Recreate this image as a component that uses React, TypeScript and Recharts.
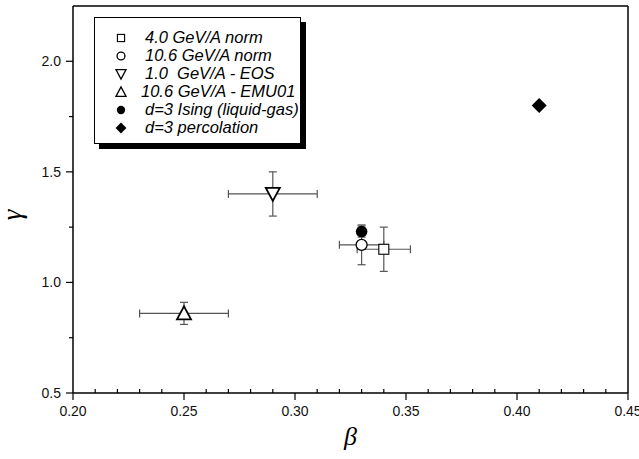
import React from "react";
import {
  ScatterChart,
  Scatter,
  XAxis,
  YAxis,
  ErrorBar,
  ReferenceLine,
  Legend,
  Label
} from "recharts";

// β, γ and their errors, one entry per series
const seriesNames = [
  "4.0 GeV/A norm",
  "10.6 GeV/A norm",
  "1.0  GeV/A - EOS",
  "10.6 GeV/A - EMU01",
  "d=3 Ising (liquid-gas)",
  "d=3 percolation"
];
const markerKinds = ["square", "circle", "down", "up", "dot", "diamond"];
const betaValues = [0.34, 0.33, 0.29, 0.25, 0.33, 0.41];
const gammaValues = [1.15, 1.17, 1.4, 0.86, 1.23, 1.8];
const betaErrors = [0.012, 0.01, 0.02, 0.02, 0, 0];
const gammaErrors = [0.1, 0.09, 0.1, 0.05, 0.025, 0];

const xTicks = [
  0.2, 0.21, 0.22, 0.23, 0.24, 0.25, 0.26, 0.27, 0.28, 0.29, 0.3, 0.31, 0.32,
  0.33, 0.34, 0.35, 0.36, 0.37, 0.38, 0.39, 0.4, 0.41, 0.42, 0.43, 0.44, 0.45
];
const yTicks = [0.5, 0.75, 1.0, 1.25, 1.5, 1.75, 2.0];

const sans = "'Liberation Sans', Arial, sans-serif";
const serif = "'Liberation Serif', 'DejaVu Serif', serif";

function Marker({ kind, cx, cy, s = 1 }: { kind: string; cx: number; cy: number; s?: number }) {
  switch (kind) {
    case "square":
      return <rect x={cx - 5 * s} y={cy - 5 * s} width={10 * s} height={10 * s} fill="#fff" stroke="#000" strokeWidth={1.1} />;
    case "circle":
      return <circle cx={cx} cy={cy} r={5.5 * s} fill="#fff" stroke="#000" strokeWidth={1.3} />;
    case "down":
      return (
        <polygon
          points={`${cx - 7 * s},${cy - 6 * s} ${cx + 7 * s},${cy - 6 * s} ${cx},${cy + 7 * s}`}
          fill="#fff" stroke="#000" strokeWidth={1.8 * s}
        />
      );
    case "up":
      return (
        <polygon
          points={`${cx - 7 * s},${cy + 6 * s} ${cx + 7 * s},${cy + 6 * s} ${cx},${cy - 7 * s}`}
          fill="#fff" stroke="#000" strokeWidth={1.8 * s}
        />
      );
    case "dot":
      return <circle cx={cx} cy={cy} r={5.8 * s} fill="#000" />;
    default:
      return (
        <polygon
          points={`${cx},${cy - 7.5 * s} ${cx + 7.5 * s},${cy} ${cx},${cy + 7.5 * s} ${cx - 7.5 * s},${cy}`}
          fill="#000"
        />
      );
  }
}

const XTick = (props: any) => {
  const { x, y, payload } = props;
  const v = payload.value;
  const major = Math.abs(v * 20 - Math.round(v * 20)) < 1e-6;
  if (!major) return <line x1={x} x2={x} y1={y} y2={y - 4} stroke="#000" strokeWidth={1.2} />;
  return (
    <g>
      <line x1={x} x2={x} y1={y} y2={y + 7} stroke="#000" strokeWidth={1.2} />
      <text x={x} y={y + 23} textAnchor="middle" fontFamily={sans} fontSize={14} fill="#111">
        {v.toFixed(2)}
      </text>
    </g>
  );
};

const YTick = (props: any) => {
  const { x, y, payload } = props;
  const v = payload.value;
  const major = Math.abs(v * 2 - Math.round(v * 2)) < 1e-6;
  if (!major) return <line x1={x} x2={x - 4} y1={y} y2={y} stroke="#000" strokeWidth={1.2} />;
  return (
    <g>
      <line x1={x} x2={x - 7} y1={y} y2={y} stroke="#000" strokeWidth={1.2} />
      <text x={x - 12} y={y + 5} textAnchor="end" fontFamily={sans} fontSize={14} fill="#111">
        {v.toFixed(1)}
      </text>
    </g>
  );
};

const LegendBox = () => (
  <div
    style={{
      position: "relative",
      width: 205,
      height: 125,
      border: "1px solid #000",
      background: "#fff",
      boxShadow: "5px 5px 0 #000",
      fontFamily: sans,
      fontStyle: "italic",
      fontSize: 16.5,
      color: "#000"
    }}
  >
    {seriesNames.map((name, i) => (
      <div key={name} style={{ position: "absolute", left: 0, top: 11 + i * 18, height: 18, width: 205 }}>
        <svg width={14} height={14} style={{ position: "absolute", left: 19, top: 2 }}>
          <Marker kind={markerKinds[i]} cx={7} cy={7} s={0.72} />
        </svg>
        <span style={{ position: "absolute", left: i === 3 ? 46 : 50, top: -1, whiteSpace: "pre", lineHeight: "18px" }}>
          {name}
        </span>
      </div>
    ))}
  </div>
);

const seriesData = seriesNames.map((name, i) => [
  { beta: betaValues[i], gamma: gammaValues[i], eb: betaErrors[i], eg: gammaErrors[i] }
]);

export default function App() {
  return (
    <div style={{ position: "absolute", left: 0, top: 0, background: "#fff" }}>
      <ScatterChart width={639} height={459} margin={{ top: 6, right: 11, left: 0, bottom: 0 }}>
        <XAxis
          type="number"
          dataKey="beta"
          domain={[0.2, 0.45]}
          allowDataOverflow
          ticks={xTicks}
          interval={0}
          tickSize={0}
          tickMargin={0}
          tickLine={false}
          tick={<XTick />}
          height={66}
          axisLine={{ stroke: "#000", strokeWidth: 1.5 }}
        >
          <Label value="β" position="insideBottom" offset={14} fontFamily={serif} fontStyle="italic" fontSize={26} fill="#000" />
        </XAxis>
        <YAxis
          type="number"
          dataKey="gamma"
          domain={[0.5, 2.25]}
          allowDataOverflow
          ticks={yTicks}
          interval={0}
          tickSize={0}
          tickMargin={0}
          tickLine={false}
          tick={<YTick />}
          width={73}
          axisLine={{ stroke: "#000", strokeWidth: 1.5 }}
        >
          <Label
            content={() => (
              <text
                transform="translate(21,215) rotate(-90)"
                textAnchor="middle"
                fontFamily={serif}
                fontStyle="italic"
                fontSize={27}
                fill="#000"
              >
                γ
              </text>
            )}
          />
        </YAxis>
        <ReferenceLine y={2.25} stroke="#000" strokeWidth={1.5} />
        <ReferenceLine x={0.45} stroke="#000" strokeWidth={1.5} />
        {seriesNames.map((name, i) => (
          <Scatter
            key={name}
            name={name}
            data={seriesData[i]}
            isAnimationActive={false}
            shape={(p: any) => <Marker kind={markerKinds[i]} cx={p.cx} cy={p.cy} />}
          >
            {betaErrors[i] > 0 && (
              <ErrorBar dataKey="eb" direction="x" width={4} stroke="#555" strokeWidth={1.2} />
            )}
            {gammaErrors[i] > 0 && (
              <ErrorBar dataKey="eg" direction="y" width={4} stroke="#555" strokeWidth={1.2} />
            )}
          </Scatter>
        ))}
        <Legend
          layout="vertical"
          align="center"
          verticalAlign="middle"
          wrapperStyle={{ position: "absolute", left: 94, top: 17, width: 212 }}
          content={() => <LegendBox />}
        />
      </ScatterChart>
    </div>
  );
}
